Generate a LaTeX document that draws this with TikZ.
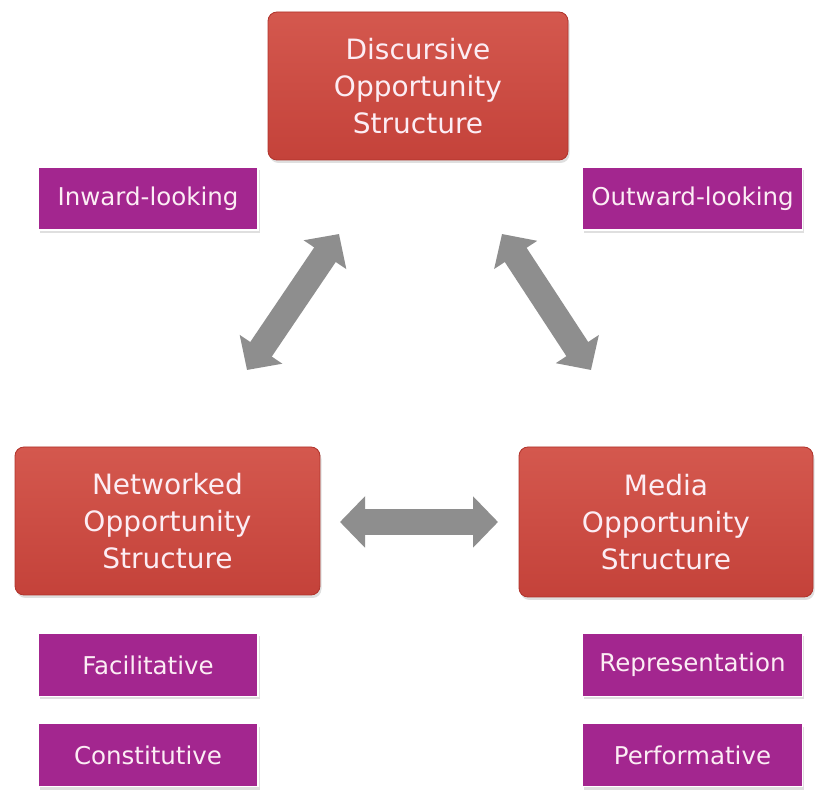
\documentclass[tikz,border=0pt]{standalone}
\usepackage{fontspec}
\setmainfont{DejaVu Sans}
\usetikzlibrary{arrows.meta,shadows}
\definecolor{redtop}{HTML}{D4584E}
\definecolor{redbot}{HTML}{C4423A}
\definecolor{redline}{HTML}{B0332B}
\definecolor{purplebox}{HTML}{A3268F}
\definecolor{boxtext}{HTML}{FCEDF4}
\definecolor{arrowgray}{HTML}{8E8E8E}
\tikzset{
  mainbox/.style={rectangle, rounded corners=9pt, top color=redtop, bottom color=redbot,
    draw=redline, line width=0.8pt, text=boxtext, align=center,
    font=\fontsize{28}{37}\selectfont, inner sep=0pt,
    drop shadow={shadow xshift=1.5pt, shadow yshift=-3pt, opacity=0.25}},
  subbox/.style={rectangle, fill=purplebox, draw=white, line width=1.2pt, text=boxtext,
    align=center, font=\fontsize{24.5}{28}\selectfont, inner sep=0pt,
    minimum width=220pt, minimum height=63pt,
    drop shadow={shadow xshift=1.5pt, shadow yshift=-3pt, opacity=0.25}},
  blockarrow/.style={draw=arrowgray, line width=26pt,
    {Triangle[length=25pt 0 0, width=50pt 0 0, fill=arrowgray]}-{Triangle[length=25pt 0 0, width=50pt 0 0, fill=arrowgray]}}
}
\begin{document}
\begin{tikzpicture}[x=1pt,y=-1pt]
\useasboundingbox[fill=white] (0,0) rectangle (815,791);
% main boxes
\node[mainbox, minimum width=300pt, minimum height=148pt] (dos) at (418,86)
  {Discursive\\Opportunity\\Structure};
\node[mainbox, minimum width=305pt, minimum height=148pt] (nos) at (167.5,521)
  {Networked\\Opportunity\\Structure};
\node[mainbox, minimum width=294pt, minimum height=150pt] (mos) at (666,522)
  {Media\\Opportunity\\Structure};
% sub boxes
\node[subbox] (inw) at (148,198.5) {Inward-looking};
\node[subbox] (outw) at (692.5,198.5) {Outward-looking};
\node[subbox] (fac) at (148,665) {Facilitative};
\node[subbox] (con) at (148,755) {Constitutive};
\node[subbox] (rep) at (692.5,665) {Representation};
\node[subbox] (perf) at (692.5,755) {Performative};
% arrow end points
\coordinate (dosL) at (339,234);
\coordinate (nosT) at (247,370);
\coordinate (dosR) at (502,234);
\coordinate (mosT) at (591,370);
\coordinate (nosR) at (340,522);
\coordinate (mosL) at (498,522);
\draw[blockarrow] (nosT) -- (dosL);
\draw[blockarrow] (dosR) -- (mosT);
\draw[blockarrow] (nosR) -- (mosL);
\end{tikzpicture}
\end{document}
